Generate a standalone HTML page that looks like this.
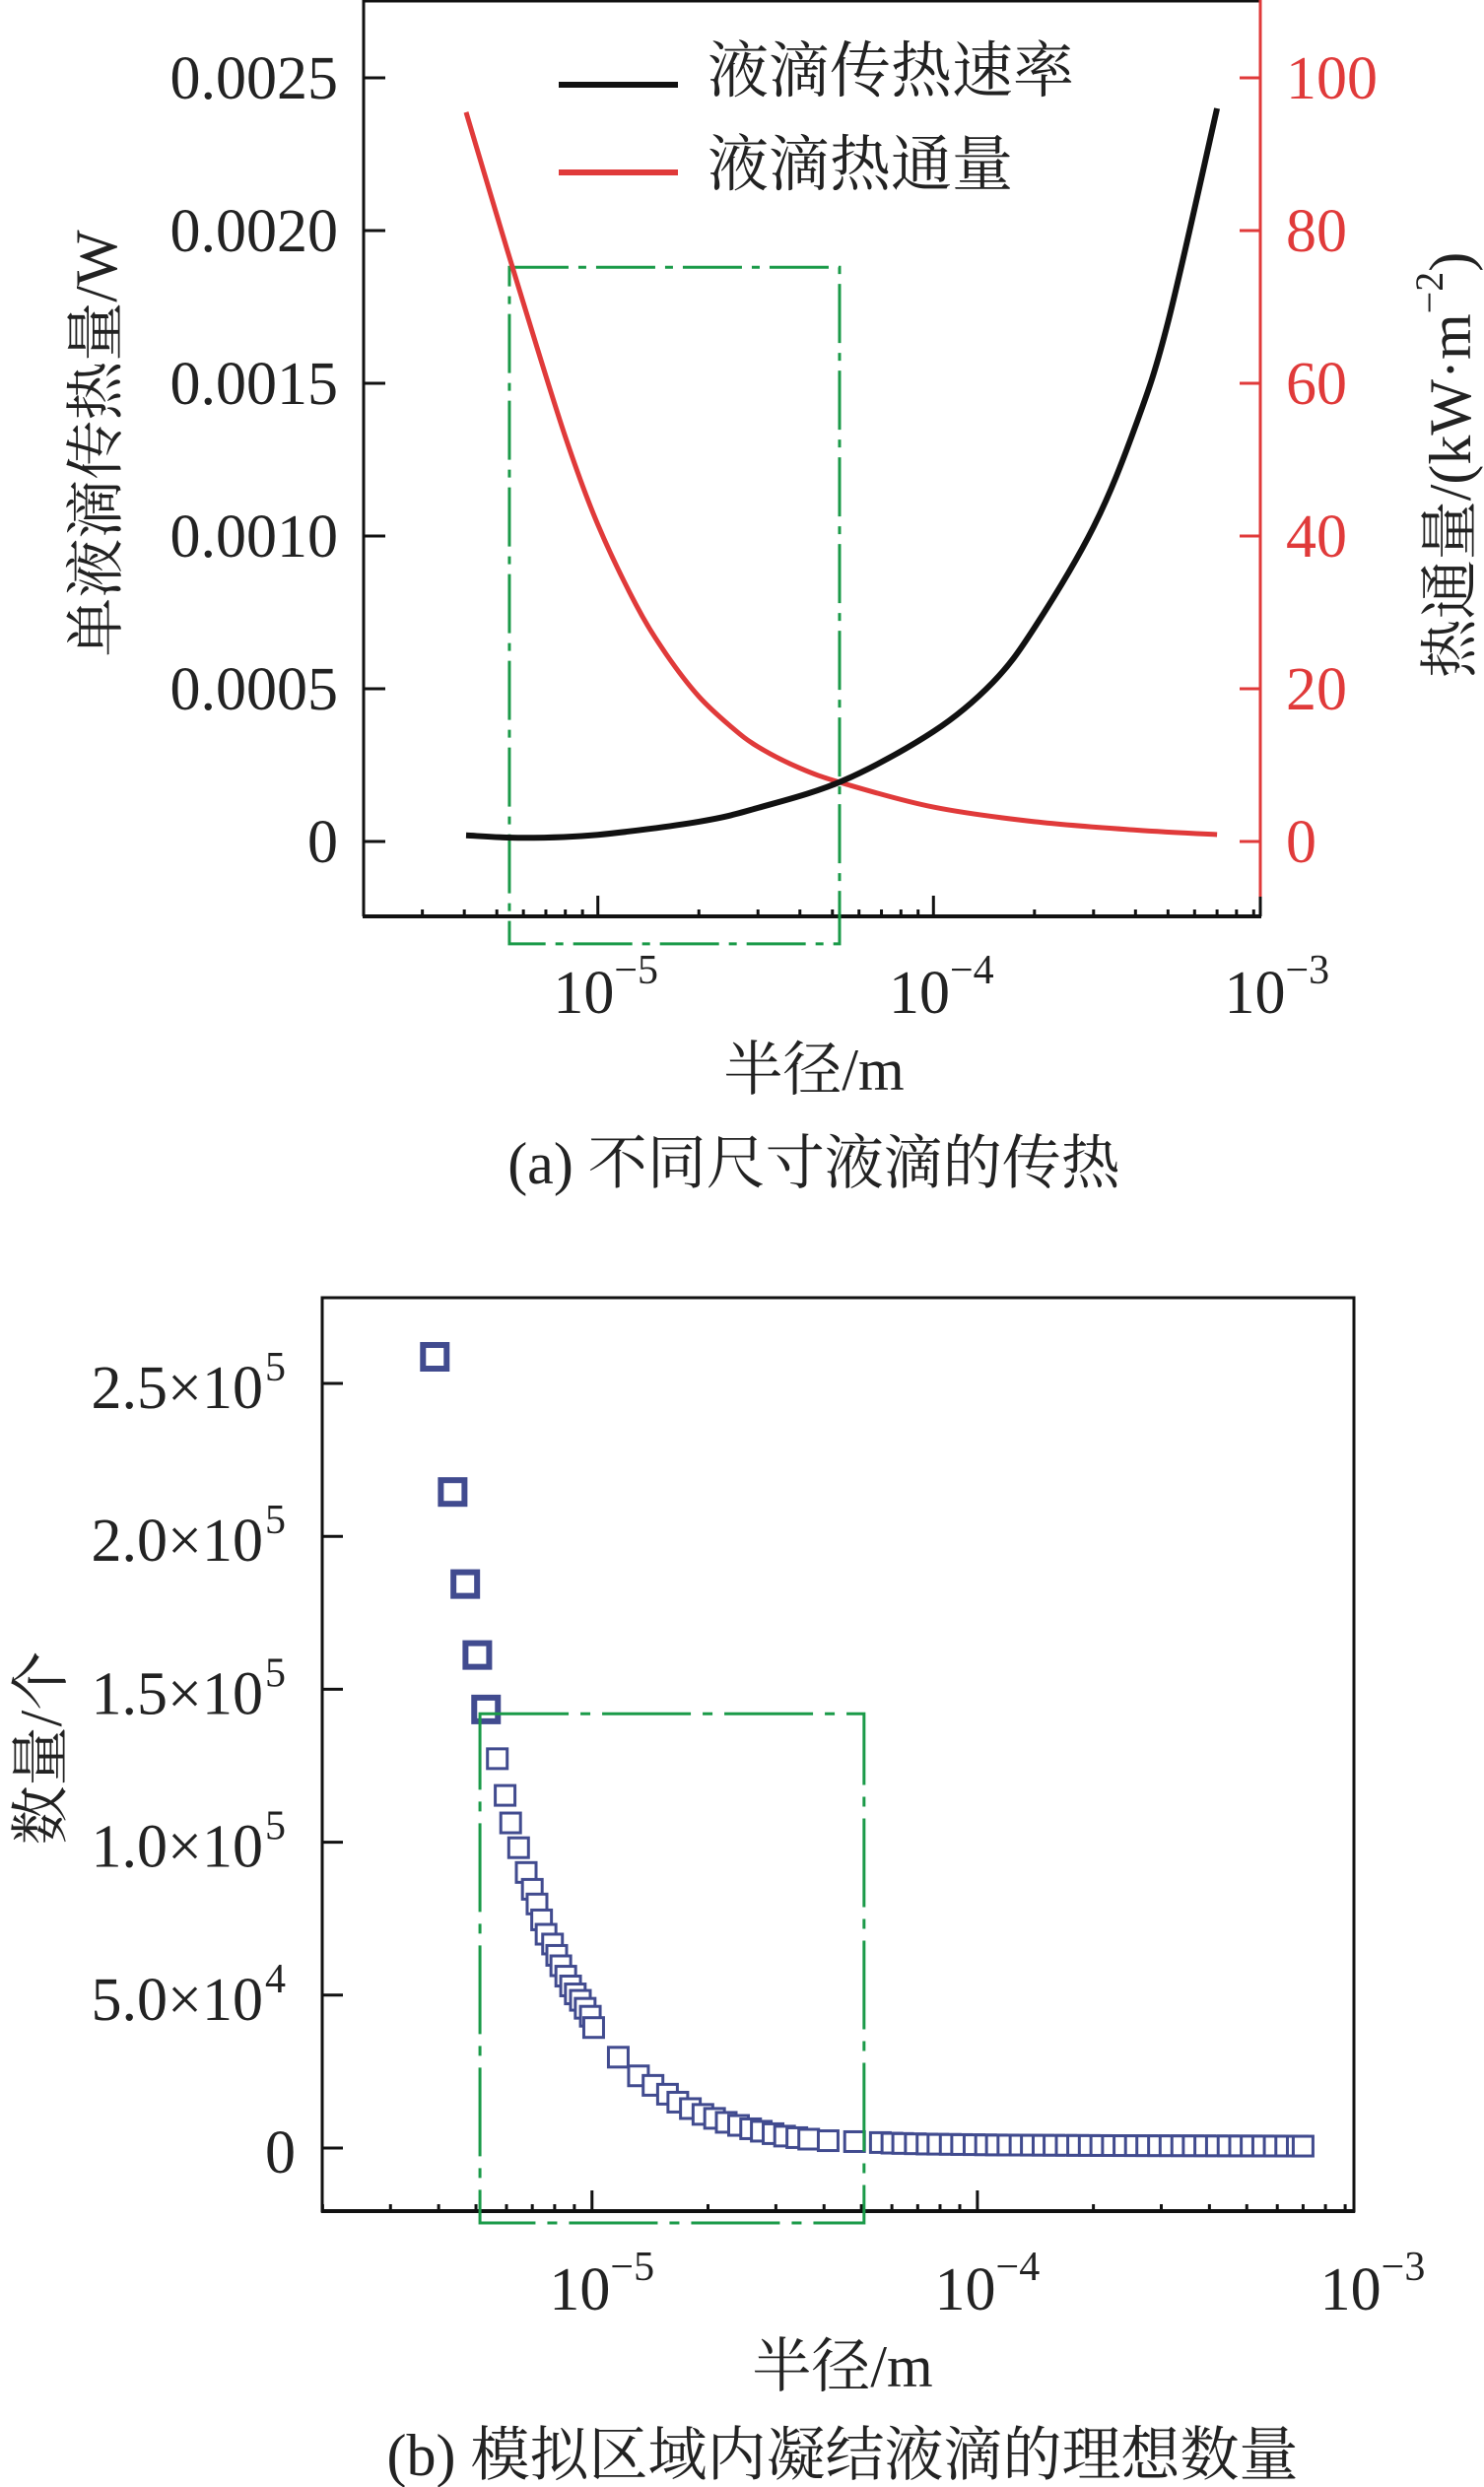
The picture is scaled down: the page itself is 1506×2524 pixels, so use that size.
<!DOCTYPE html>
<html><head><meta charset="utf-8">
<style>
html,body{margin:0;padding:0;background:#fff;}
svg{display:block;}
text{font-family:"Liberation Serif","Noto Serif CJK SC",serif;}
.cjk{font-family:"Liberation Serif","Noto Serif CJK SC",serif;}
</style></head>
<body>
<svg id="fig" width="1506" height="2524" viewBox="0 0 1506 2524" xmlns="http://www.w3.org/2000/svg">
<g id="chartA"></g>
<g id="chartB"></g>
</svg>
<script>
// ---------- Chart A data ----------
const aRadius = [4.05e-6, 6e-6, 1e-5, 2e-5, 3e-5, 5.4e-5, 1e-4, 1.5e-4, 2e-4, 3e-4, 4e-4, 5e-4, 7e-4];
const aHeatRate = [0.00002, 0.000012, 0.000022, 0.000065, 0.00011, 0.0002, 0.00036, 0.00052, 0.0007, 0.00103, 0.00136, 0.0017, 0.0024];
const aFluxRadius = [4.05e-6, 5e-6, 6e-6, 8e-6, 1e-5, 1.3e-5, 1.6e-5, 2e-5, 2.5e-5, 3e-5, 4e-5, 5.4e-5, 1e-4, 2e-4, 4e-4, 7e-4];
const aHeatFlux = [95.5, 82, 70.5, 53, 41.5, 31, 24.5, 19, 15, 12.4, 9.6, 7.6, 4.5, 2.6, 1.5, 0.9];
const aLeftTicks = [0, 0.0005, 0.001, 0.0015, 0.002, 0.0025];
const aLeftTickLabels = ["0", "0.0005", "0.0010", "0.0015", "0.0020", "0.0025"];
const aRightTicks = [0, 20, 40, 60, 80, 100];
const xDecades = [-5, -4, -3];
const aBox = [5.45e-6, 5.25e-5, 0.00188, -0.000335];

// ---------- Chart B data ----------
const bRadius = [3.91e-6,4.35e-6,4.69e-6,5.04e-6,5.31e-6,5.68e-6,5.95e-6,6.15e-6,6.45e-6,6.75e-6,
7.0e-6,7.2e-6,7.4e-6,7.6e-6,7.9e-6,8.1e-6,8.3e-6,8.55e-6,8.8e-6,9.05e-6,9.33e-6,9.6e-6,9.9e-6,1.01e-5,
1.17e-5,1.32e-5,1.44e-5,1.57e-5,1.67e-5,1.8e-5,1.94e-5,2.08e-5,2.23e-5,2.4e-5,2.58e-5,2.75e-5,2.95e-5,3.16e-5,3.4e-5,3.65e-5,4.1e-5,4.8e-5,5.6e-5,
6.0e-5,6.4e-5,6.9e-5,7.4e-5,7.9e-5,8.5e-5,9.1e-5,9.8e-5,1.05e-4,1.12e-4,1.2e-4,1.29e-4,1.38e-4,1.48e-4,1.58e-4,1.7e-4,1.82e-4,1.95e-4,2.09e-4,2.24e-4,2.4e-4,2.57e-4,2.75e-4,2.95e-4,3.16e-4,3.39e-4,3.63e-4,3.89e-4,4.17e-4,4.47e-4,4.79e-4,5.13e-4,5.5e-4,5.89e-4,6.31e-4,6.76e-4,7.0e-4];
const bCount = [258700,214500,184400,161200,143400,127300,115300,106300,98200,90100,
84600,79800,74600,69900,66700,63000,59600,56200,53000,50400,48300,45700,43100,39400,
29700,23600,20500,17600,15000,12900,11000,9700,8400,7400,6300,5500,4700,3900,3400,2900,2400,2100,1800,
1600,1500,1400,1300,1250,1200,1150,1100,1050,1000,980,960,940,920,900,880,860,840,820,800,790,780,770,760,750,740,730,720,710,700,690,680,670,660,650,640,630];
const bTicks = [0, 50000, 100000, 150000, 200000, 250000];
const bTickMant = ["0", "5.0", "1.0", "1.5", "2.0", "2.5"];
const bTickExp = ["", "4", "5", "5", "5", "5"];
const bBox = [5.12e-6, 5.08e-5, 142000, -24500];

const NS = "http://www.w3.org/2000/svg";
function mk(parent, tag, attrs, txt){
  const e = document.createElementNS(NS, tag);
  for (const k in attrs) e.setAttribute(k, attrs[k]);
  if (txt !== undefined) e.textContent = txt;
  parent.appendChild(e);
  return e;
}
function smoothPath(pts){
  let d = "M" + pts[0][0].toFixed(1) + "," + pts[0][1].toFixed(1);
  for (let i = 0; i < pts.length - 1; i++){
    const p0 = pts[Math.max(0,i-1)], p1 = pts[i], p2 = pts[i+1], p3 = pts[Math.min(pts.length-1,i+2)];
    const c1x = p1[0] + (p2[0]-p0[0])/6, c1y = p1[1] + (p2[1]-p0[1])/6;
    const c2x = p2[0] - (p3[0]-p1[0])/6, c2y = p2[1] - (p3[1]-p1[1])/6;
    d += " C" + c1x.toFixed(1)+","+c1y.toFixed(1)+" "+c2x.toFixed(1)+","+c2y.toFixed(1)+" "+p2[0].toFixed(1)+","+p2[1].toFixed(1);
  }
  return d;
}
function minorTicks(g, sx, yBase, lo, hi, name){
  for (let dec = -6; dec <= -3; dec++){
    for (let m = 1; m <= 9; m++){
      const v = m * Math.pow(10, dec);
      const lv = Math.log10(v);
      if (lv < lo || lv > hi) continue;
      const x = sx(v);
      const len = (m === 1) ? 21 : 7;
      const t = mk(g, "line", {x1:x, x2:x, y1:yBase, y2:yBase-len, stroke:"#111", "stroke-width":3});
      
      
    }
  }
}

// ================= CHART A =================
(function(){
  const g = document.getElementById("chartA");
  const L = 369, R = 1279, T = 0, B = 930;
  const lx0 = -5.698, lx1 = -3.026;
  const sx = v => L + (Math.log10(v) - lx0) / (lx1 - lx0) * (R - L);
  const zeroY = 854, topY = 79;
  const sy = v => zeroY - v / 0.0025 * (zeroY - topY);
  const sy2 = v => zeroY - v / 100 * (zeroY - topY);

  let e = mk(g, "line", {x1:L, y1:T, x2:L, y2:B, stroke:"#111", "stroke-width":3});
   
  e = mk(g, "line", {x1:L, y1:1, x2:R, y2:1, stroke:"#111", "stroke-width":3});
   
  e = mk(g, "line", {x1:L-1, y1:B, x2:R+1, y2:B, stroke:"#111", "stroke-width":4});
   
  e = mk(g, "line", {x1:R, y1:T, x2:R, y2:B-20, stroke:"#e03a3a", "stroke-width":3});
   
  e = mk(g, "line", {x1:R, y1:B-20, x2:R, y2:B, stroke:"#111", "stroke-width":3});
   

  minorTicks(g, sx, B, lx0, lx1, 'x-tick');

  aLeftTicks.forEach((v,i) => {
    const y = sy(v);
    let t = mk(g, "line", {x1:L, x2:L+22, y1:y, y2:y, stroke:"#111", "stroke-width":3});
     
    t = mk(g, "text", {x:343, y:y+21, "text-anchor":"end", "font-size":62, fill:"#222"}, aLeftTickLabels[i]);
     
  });
  aRightTicks.forEach((v) => {
    const y = sy2(v);
    let t = mk(g, "line", {x1:R-21, x2:R, y1:y, y2:y, stroke:"#e03a3a", "stroke-width":3});
     
    t = mk(g, "text", {x:1305, y:y+21, "text-anchor":"start", "font-size":62, fill:"#e03a3a"}, String(v));
     
  });
  xDecades.forEach(d => {
    const x = sx(Math.pow(10,d));
    const t = mk(g, "text", {x:x+8, y:1028, "text-anchor":"middle", "font-size":62, fill:"#222"});
     
    mk(t, "tspan", {}, "10");
    mk(t, "tspan", {dy:-30, "font-size":42}, "\u2212" + (-d));
  });

  e = mk(g, "rect", {x:sx(aBox[0]), y:sy(aBox[2]), width:sx(aBox[1])-sx(aBox[0]), height:sy(aBox[3])-sy(aBox[2]),
    fill:"none", stroke:"#1a9a48", "stroke-width":3, "stroke-dasharray":"60 10 8 10"});
   

  e = mk(g, "path", {d: smoothPath(aFluxRadius.map((r,i)=>[sx(r), sy2(aHeatFlux[i])])), fill:"none", stroke:"#e03a3a", "stroke-width":5});
   
  e = mk(g, "path", {d: smoothPath(aRadius.map((r,i)=>[sx(r), sy(aHeatRate[i])])), fill:"none", stroke:"#111", "stroke-width":6});
   

  e = mk(g, "line", {x1:567, x2:688, y1:86, y2:86, stroke:"#111", "stroke-width":6});
   
  e = mk(g, "text", {x:718, y:93, "font-size":62, fill:"#222", class:"cjk"}, "液滴传热速率");
   
  e = mk(g, "line", {x1:567, x2:688, y1:175, y2:175, stroke:"#e03a3a", "stroke-width":6});
   
  e = mk(g, "text", {x:718, y:188, "font-size":62, fill:"#222", class:"cjk"}, "液滴热通量");
   

  e = mk(g, "text", {x:0, y:0, "font-size":60, fill:"#222", "text-anchor":"middle", transform:"translate(118,450) rotate(-90)"}, "单液滴传热量/W");
   
  e = mk(g, "text", {x:0, y:0, "font-size":60, fill:"#222", "text-anchor":"middle", transform:"translate(1492,472) rotate(-90)"});
   
  mk(e, "tspan", {}, "热通量/(kW·m");
  mk(e, "tspan", {dy:-28, "font-size":40}, "\u22122");
  mk(e, "tspan", {dy:28}, ")");
  e = mk(g, "text", {x:826, y:1106, "font-size":60, fill:"#222", "text-anchor":"middle"}, "半径/m");
   
  e = mk(g, "text", {x:826, y:1201, "font-size":60, fill:"#222", "text-anchor":"middle"}, "(a) 不同尺寸液滴的传热");
   
})();

// ================= CHART B =================
(function(){
  const g = document.getElementById("chartB");
  const L = 327, R = 1374, T = 1317, B = 2244;
  const lx0 = -5.70, lx1 = -3.023;
  const sx = v => L + (Math.log10(v) - lx0) / (lx1 - lx0) * (R - L);
  const zeroY = 2180, topY = 1404;
  const sy = v => zeroY - v / 250000 * (zeroY - topY);

  let e = mk(g, "rect", {x:L, y:T, width:R-L, height:B-T, fill:"none", stroke:"#111", "stroke-width":3});
   
  e = mk(g, "line", {x1:L-1, y1:B, x2:R+1, y2:B, stroke:"#111", "stroke-width":4});
   
  minorTicks(g, sx, B, lx0, lx1, 'x-tick');

  bTicks.forEach((v,i) => {
    const y = sy(v);
    let t = mk(g, "line", {x1:L, x2:L+21, y1:y, y2:y, stroke:"#111", "stroke-width":3});
     
    t = mk(g, "text", {x: bTickExp[i] ? 267 : 300, y:y+25, "text-anchor":"end", "font-size":62, fill:"#222"});
     
    t.textContent = bTickExp[i] ? bTickMant[i] + "×10" : bTickMant[i];
    if (bTickExp[i]){
      const s = mk(g, "text", {x:269, y:y-3, "text-anchor":"start", "font-size":42, fill:"#222"}, bTickExp[i]);
       
    }
  });
  xDecades.forEach(d => {
    const x = sx(Math.pow(10,d));
    const t = mk(g, "text", {x:x+10, y:2344, "text-anchor":"middle", "font-size":62, fill:"#222"});
     
    mk(t, "tspan", {}, "10");
    mk(t, "tspan", {dy:-30, "font-size":42}, "\u2212" + (-d));
  });

  const n = Math.min(bRadius.length, bCount.length);
  for (let i = 0; i < n; i++){
    const r = bRadius[i];
    const thick = i < 5;
    const s = thick ? 24 : 20;
    const m = mk(g, "rect", {x:sx(r)-s/2, y:sy(bCount[i])-s/2, width:s, height:s, fill:"#fff",
      stroke:"#414b8f", "stroke-width": thick ? 6 : 3});
    
    
  }

  e = mk(g, "rect", {x:sx(bBox[0]), y:sy(bBox[2]), width:sx(bBox[1])-sx(bBox[0]), height:sy(bBox[3])-sy(bBox[2]),
    fill:"none", stroke:"#1a9a48", "stroke-width":3, "stroke-dasharray":"90 12 10 12"});
   

  e = mk(g, "text", {x:0, y:0, "font-size":60, fill:"#222", "text-anchor":"middle", transform:"translate(62,1774) rotate(-90)"}, "数量/个");
   
  e = mk(g, "text", {x:855, y:2422, "font-size":60, fill:"#222", "text-anchor":"middle"}, "半径/m");
   
  e = mk(g, "text", {x:855, y:2512, "font-size":60, fill:"#222", "text-anchor":"middle"}, "(b) 模拟区域内凝结液滴的理想数量");
   
})();
</script>
</body></html>
